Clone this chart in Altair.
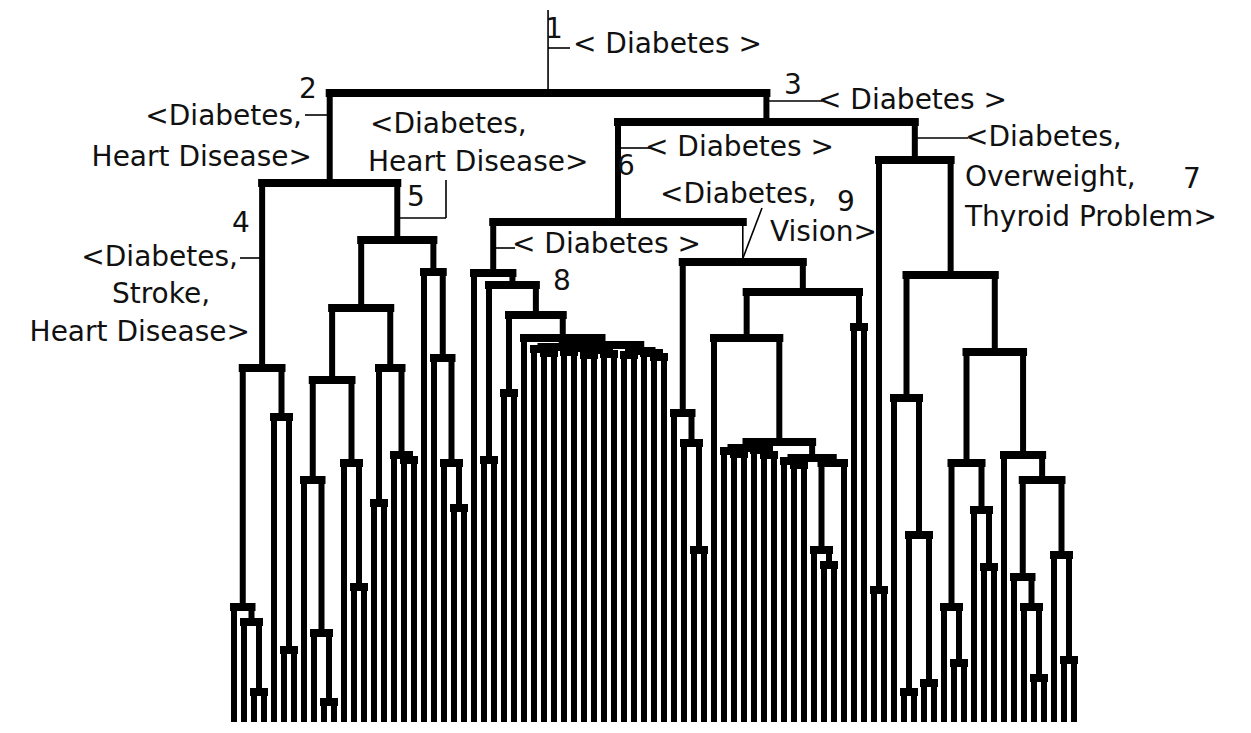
import altair as alt
import pandas as pd

L = None  # a leaf

# Each cluster: [merge height, left subtree, right subtree]; a leaf is L
cluster_4 = [365, [126, L, [111, L, [41, L, L]]], [316, L, [83, L, L]]]
cluster_5 = [493,
             [425,
              [353, [253, L, [100, L, [31, L, L]]], [270, L, [146, L, L]]],
              [365, [230, L, L], [278, L, [273, L, L]]]],
             [461, L, [375, L, [270, L, [225, L, L]]]]]
comb_8 = [388,
          [386, [384, L, [380, L, L]], [385, [381, L, L], [383, [378, L, L], [379, L, L]]]],
          [382, [378, L, L], [380, L, [376, L, L]]]]
cluster_8 = [460, L, [448, [273, L, L], [418, [340, L, L], [395, L, comb_8]]]]
comb_9 = [291,
          [285, [282, L, [279, L, L]], [283, L, [278, L, L]]],
          [275, [272, L, [268, L, L]], [270, [183, L, [168, L, L]], L]]]
cluster_9 = [471, [320, L, [290, L, [183, L, L]]], [441, [395, L, comb_9], [406, L, L]]]
cluster_7 = [573, [143, L, L],
             [458,
              [335, L, [198, [41, L, L], [50, L, L]]],
              [381,
               [270, [126, L, [70, L, L]], [223, L, [166, L, L]]],
               [278, L, [253, [156, L, [126, L, [55, L, L]]], [178, L, [73, L, L]]]]]]]
cluster_6 = [511, cluster_8, cluster_9]
cluster_2 = [550, cluster_4, cluster_5]
cluster_3 = [611, cluster_6, cluster_7]
root = [640, cluster_2, cluster_3]
root_stem_top = 723
thin_links = [cluster_9]

# annotation texts (reference pixel positions)
left_texts = ["< Diabetes >", "< Diabetes >", "<Diabetes,", "Heart Disease>", "< Diabetes >",
              "<Diabetes,", "Overweight,", "Thyroid Problem>", "< Diabetes >", "<Diabetes,", "Vision>"]
left_px = [573, 818, 370, 368, 645, 965, 965, 965, 512, 660, 770]
left_py = [45, 101, 125, 163, 148, 138, 178, 218, 245, 195, 233]
right_texts = ["<Diabetes,", "Heart Disease>", "<Diabetes,", "Heart Disease>"]
right_px = [302, 312, 238, 250]
right_py = [117, 158, 258, 333]
center_texts = ["Stroke,", "1", "2", "3", "4", "5", "6", "7", "8", "9"]
center_px = [161, 554, 308, 793, 241, 416, 626, 1192, 562, 846]
center_py = [295, 30, 90, 86, 224, 198, 167, 180, 282, 203]
lead_x1 = [548, 305, 766, 240, 397, 446, 618, 915, 493, 743]
lead_y1 = [48, 115, 101, 258, 218, 218, 148, 138, 248, 258]
lead_x2 = [570, 330, 822, 262, 446, 446, 650, 968, 515, 762]
lead_y2 = [48, 115, 101, 258, 218, 180, 148, 138, 248, 208]

segs = []
counter = [0]


def walk(node):
    if node is None:
        i = counter[0]
        counter[0] += 1
        return float(i), 0.0
    h, left, right = node
    xl, hl = walk(left)
    xr, hr = walk(right)
    segs.append(dict(x=xl, x2=xr, y=h, y2=h, kind="h"))
    for child, xc, hc in ((left, xl, hl), (right, xr, hr)):
        thin = any(child is t for t in thin_links)
        segs.append(dict(x=xc, x2=xc, y=hc, y2=h, kind="thin" if thin else "v"))
    return (xl + xr) / 2, h


rx, rh = walk(root)
segs.append(dict(x=rx, x2=rx, y=rh, y2=root_stem_top, kind="thin"))
seg_df = pd.DataFrame(segs)

W, H = 1235, 714
xs = alt.Scale(domain=[-22.6, 100.9], nice=False, zero=False)
ys = alt.Scale(domain=[11, 725], nice=False, zero=False)


def tree_layer(kind, width, cap="butt"):
    return alt.Chart(seg_df).transform_filter(alt.datum.kind == kind).mark_rule(
        color="black", strokeWidth=width, strokeCap=cap, clip=True
    ).encode(
        x=alt.X("x:Q", scale=xs, axis=None), x2="x2:Q",
        y=alt.Y("y:Q", scale=ys, axis=None), y2="y2:Q")


OFF = 8
lead_df = pd.DataFrame(dict(x1=[v - OFF for v in lead_x1], y1=[v - OFF for v in lead_y1],
                            x2=[v - OFF for v in lead_x2], y2=[v - OFF for v in lead_y2]))
leaders = alt.Chart(lead_df).mark_rule(color="black", strokeWidth=1.6).encode(
    x=alt.X("x1:Q", scale=None), y=alt.Y("y1:Q", scale=None), x2="x2:Q", y2="y2:Q")


def text_layer(texts, pxs, pys, align):
    df = pd.DataFrame(dict(t=texts, px=[v - OFF for v in pxs], py=[v - OFF for v in pys]))
    return alt.Chart(df).mark_text(font="DejaVu Sans", fontSize=28, color="#111",
                                   align=align, baseline="middle").encode(
        x=alt.X("px:Q", scale=None), y=alt.Y("py:Q", scale=None), text="t:N")


chart = alt.layer(
    tree_layer("v", 6),
    tree_layer("thin", 1.6),
    tree_layer("h", 8, "square"),
    leaders,
    text_layer(left_texts, left_px, left_py, "left"),
    text_layer(right_texts, right_px, right_py, "right"),
    text_layer(center_texts, center_px, center_py, "center"),
).properties(width=W, height=H, autosize="none", padding=0).configure_view(stroke=None)

chart.save("out.html", embed_options={"renderer": "svg", "actions": False})
